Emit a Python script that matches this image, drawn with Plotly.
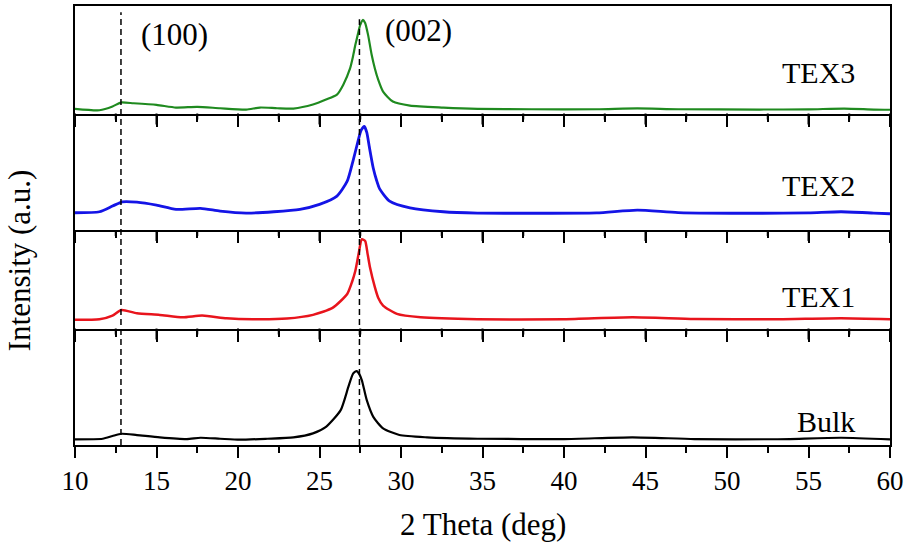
import plotly.graph_objects as go

# ---------------- data (intensity in a.u.) ----------------
tex3_x = [10, 11.5, 12.3, 12.8, 13.6, 15, 16.2, 17.5, 18.9, 20.5, 21.35, 22.4, 23.4, 24.6, 25.4,
          26.07, 26.46, 26.87, 27.05, 27.2, 27.36, 27.5, 27.67, 27.8, 27.98, 28.2, 28.4, 28.6, 28.9,
          29.5, 30.55, 32.6, 34.7, 38, 42, 44.5, 47, 52, 55, 57.2, 59, 60]
tex3_y = [4.7, 3.3, 7, 11, 10.3, 8.7, 6, 6.7, 5.3, 4, 6, 5.3, 5, 9, 14,
          19, 29, 45, 57, 69, 80, 89, 94, 91, 79, 59, 45, 34, 22,
          12, 8, 6, 4.7, 4.3, 4.3, 5.2, 4.3, 4.0, 4.2, 5.0, 4.0, 3.8]

tex2_x = [10, 11.5, 12.3, 12.9, 13.8, 15, 16.2, 17.7, 18.9, 20.5, 22.2, 23.8, 25, 26.07, 26.7,
          27.05, 27.36, 27.55, 27.75, 27.9, 28.05, 28.3, 28.5, 28.7, 29.3, 30.55, 32.6, 34.7, 38,
          42, 44.5, 47, 52, 55, 57, 59, 60]
tex2_y = [17.3, 18.3, 24, 28.3, 28, 25, 20.7, 21.7, 19, 17, 18.3, 20.7, 25.7, 34, 49,
          69, 89, 100, 104, 98, 84, 62, 50, 41, 29, 22.3, 18.3, 17, 16.8,
          17.2, 20, 17.5, 16.8, 17.2, 18.3, 17, 16.3]

tex1_x = [10, 11.5, 12.3, 12.85, 13.8, 15.2, 16.6, 17.8, 19.3, 20.9, 23, 24.6, 25.8, 26.7, 27.0,
          27.2, 27.4, 27.6, 27.8, 27.95, 28.1, 28.4, 28.6, 28.9, 29.75, 31.2, 34.7, 40, 44.2, 48,
          53, 57, 60]
tex1_y = [8.7, 9.3, 13, 18.7, 15.3, 13.7, 11.3, 13, 10.3, 9.3, 10, 13.7, 20.7, 34.7, 47,
          58, 75, 89.7, 88, 75, 61.3, 41.3, 31, 23, 14.7, 11.3, 9.3, 9.3, 11.3, 9.6,
          9.3, 10.3, 9.3]

bulk_x = [10, 11.7, 12.3, 12.85, 13.8, 15.2, 16.85, 17.7, 18.9, 20.1, 21.8, 23.4, 24.6, 25.4, 26.3,
          26.77, 27.06, 27.28, 27.45, 27.6, 27.9, 28.3, 28.9, 29.9, 31.6, 34.7, 40, 44.2, 48, 53,
          57, 60]
bulk_y = [5.7, 6.3, 9, 11.3, 10, 7.7, 6, 7.3, 6.3, 5.3, 6.3, 7.7, 11.7, 18.3, 35,
          58.3, 71.7, 74.3, 71, 65, 45, 28.3, 16.7, 10, 7.7, 6.3, 6, 7.7, 6, 5.8,
          7.3, 5.7]

series_names = ["TEX3", "TEX2", "TEX1", "Bulk"]
series_x = [tex3_x, tex2_x, tex1_x, bulk_x]
series_y = [tex3_y, tex2_y, tex1_y, bulk_y]
series_colors = ["#1f8a1f", "#1414e6", "#e8141c", "#000000"]
series_widths = [2.2, 2.8, 2.5, 2.2]
panel_ymax = [108, 117, 99, 117]     # panel heights (1 unit = 1 px)
label_y = [41, 45, 32, 24]

peak_positions = [12.82, 27.45]
peak_labels = ["(100)", "(002)"]
peak_label_x = [16.1, 31.1]
peak_label_y = [79, 83]
peak_line_top = [0.986, 0.970]

x_ticks = [10, 15, 20, 25, 30, 35, 40, 45, 50, 55, 60]
x_minor_ticks = [12.5, 17.5, 22.5, 27.5, 32.5, 37.5, 42.5, 47.5, 52.5, 57.5]

FONT = "Liberation Serif, Times New Roman, serif"
MAJOR_LEN, MINOR_LEN = 11, 6

total = float(sum(panel_ymax))
domains = []
top = 1.0
for h in panel_ymax:
    bottom = top - h / total
    domains.append([max(bottom, 0.0), top])
    top = bottom

fig = go.Figure()
layout = {}
shapes = []
for i in range(4):
    k = i + 1
    last = (i == 3)
    fig.add_trace(go.Scatter(x=series_x[i], y=series_y[i], mode="lines", name=series_names[i],
                             xaxis="x%d" % k, yaxis="y%d" % k,
                             line=dict(color=series_colors[i], width=series_widths[i],
                                       shape="spline", smoothing=0.6),
                             showlegend=False))
    layout["xaxis%d" % k] = dict(
        domain=[0, 1], anchor="y%d" % k, range=[10, 60], showline=True, mirror=(i == 0),
        linecolor="black", linewidth=2, tickvals=x_ticks, ticks="outside", ticklen=MAJOR_LEN,
        tickwidth=2, tickcolor="black",
        minor=dict(ticks="outside", ticklen=MINOR_LEN, tickwidth=2, tickvals=x_minor_ticks,
                   tickcolor="black", showgrid=False),
        showgrid=False, zeroline=False, showticklabels=last,
        tickfont=dict(family=FONT, size=27, color="black"))
    layout["yaxis%d" % k] = dict(
        domain=domains[i], anchor="x%d" % k, range=[0, panel_ymax[i]], showline=True,
        mirror=True, linecolor="black", linewidth=2, showticklabels=False, ticks="",
        showgrid=False, zeroline=False)
    fig.add_annotation(x=58, y=label_y[i], xref="x%d" % k, yref="y%d" % k,
                       text=series_names[i], showarrow=False, xanchor="right", yanchor="middle",
                       font=dict(family=FONT, size=30, color="black"))

    # tick marks hanging down from each inner boundary (paper-referenced, like the dashed lines)
    if i > 0:
        edge = domains[i][1]
        for vals, ln in ((x_ticks, MAJOR_LEN), (x_minor_ticks, MINOR_LEN)):
            for t in vals:
                shapes.append(dict(type="line", xref="x", yref="paper",
                                   x0=t, x1=t, y0=edge, y1=edge - ln / total,
                                   line=dict(color="black", width=2)))

for j in range(2):
    shapes.append(dict(type="line", xref="x", yref="paper", x0=peak_positions[j],
                       x1=peak_positions[j], y0=0, y1=peak_line_top[j],
                       line=dict(color="black", width=1.5, dash="6px,4px")))
    fig.add_annotation(x=peak_label_x[j], y=peak_label_y[j], xref="x1", yref="y1",
                       text=peak_labels[j], showarrow=False, xanchor="center", yanchor="middle",
                       font=dict(family=FONT, size=31, color="black"))

fig.add_annotation(x=0.5, y=-0.18, xref="paper", yref="paper", text="2 Theta (deg)",
                   showarrow=False, xanchor="center", yanchor="middle",
                   font=dict(family=FONT, size=31, color="black"))
fig.add_annotation(x=-0.068, y=0.42, xref="paper", yref="paper", text="Intensity (a.u.)",
                   showarrow=False, xanchor="center", yanchor="middle", textangle=-90,
                   font=dict(family=FONT, size=31, color="black"))

fig.update_layout(width=908, height=552, margin=dict(l=75, r=18, t=4, b=107),
                  paper_bgcolor="white", plot_bgcolor="rgba(0,0,0,0)", shapes=shapes, **layout)

fig.write_html("out.html")
